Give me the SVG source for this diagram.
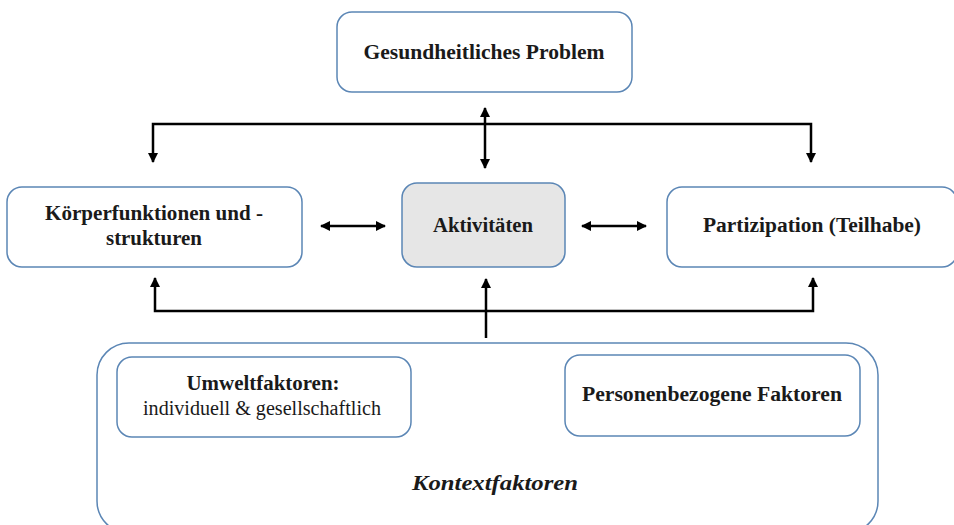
<svg xmlns="http://www.w3.org/2000/svg" width="954" height="525" viewBox="0 0 954 525">
<defs>
<marker id="ah" viewBox="0 0 10 10" refX="9" refY="5" markerWidth="4" markerHeight="4" orient="auto-start-reverse" markerUnits="strokeWidth">
<path d="M0,0 L10,5 L0,10 z" fill="#000"/>
</marker>
<style>
.box{fill:#fff;stroke:#5b86b5;stroke-width:1.5}
.grey{fill:#e6e6e6}
.t{font-family:"Liberation Serif","DejaVu Serif",serif;font-size:20px;font-weight:bold;fill:#1a1a1a;text-anchor:middle}
.n{font-weight:normal}
.i{font-style:italic;font-size:21px}
.c{fill:none;stroke:#000;stroke-width:2.5}
</style>
</defs>
<rect width="954" height="525" fill="#fff"/>
<g id="kontext">
<rect class="box" x="97" y="343" width="781" height="190" rx="32"/>
<text class="t i" x="495" y="490" textLength="166" lengthAdjust="spacingAndGlyphs">Kontextfaktoren</text>
</g>
<g id="problem">
<rect class="box" x="337" y="12" width="295" height="80" rx="15"/>
<text class="t" x="484" y="59" textLength="241" lengthAdjust="spacingAndGlyphs">Gesundheitliches Problem</text>
</g>
<g id="koerper">
<rect class="box" x="7" y="187" width="295" height="80" rx="15"/>
<text class="t" x="154" y="220" textLength="218" lengthAdjust="spacingAndGlyphs">Körperfunktionen und -</text>
<text class="t" x="154" y="245" textLength="96" lengthAdjust="spacingAndGlyphs">strukturen</text>
</g>
<g id="aktivitaeten">
<rect class="box grey" x="402" y="183" width="163" height="84" rx="15"/>
<text class="t" x="483" y="232" textLength="100" lengthAdjust="spacingAndGlyphs">Aktivitäten</text>
</g>
<g id="partizipation">
<rect class="box" x="667" y="187" width="290" height="80" rx="15"/>
<text class="t" x="812" y="232" textLength="218" lengthAdjust="spacingAndGlyphs">Partizipation (Teilhabe)</text>
</g>
<g id="umwelt">
<rect class="box" x="117" y="357" width="294" height="80" rx="15"/>
<text class="t" x="263" y="390" textLength="153" lengthAdjust="spacingAndGlyphs">Umweltfaktoren:</text>
<text class="t n" x="262" y="415" textLength="238" lengthAdjust="spacingAndGlyphs">individuell &amp; gesellschaftlich</text>
</g>
<g id="personen">
<rect class="box" x="565" y="355" width="295" height="81" rx="15"/>
<text class="t" x="712" y="401" textLength="260" lengthAdjust="spacingAndGlyphs">Personenbezogene Faktoren</text>
</g>
<g id="connectors">
<path class="c" d="M153,162 V124 H811 V162" marker-start="url(#ah)" marker-end="url(#ah)"/>
<path class="c" d="M485,108 V168" marker-start="url(#ah)" marker-end="url(#ah)"/>
<path class="c" d="M321,226 H385" marker-start="url(#ah)" marker-end="url(#ah)"/>
<path class="c" d="M582,226 H646" marker-start="url(#ah)" marker-end="url(#ah)"/>
<path class="c" d="M155,278 V311 H813 V278" marker-start="url(#ah)" marker-end="url(#ah)"/>
<path class="c" d="M486,338 V279" marker-end="url(#ah)"/>
</g>
</svg>
